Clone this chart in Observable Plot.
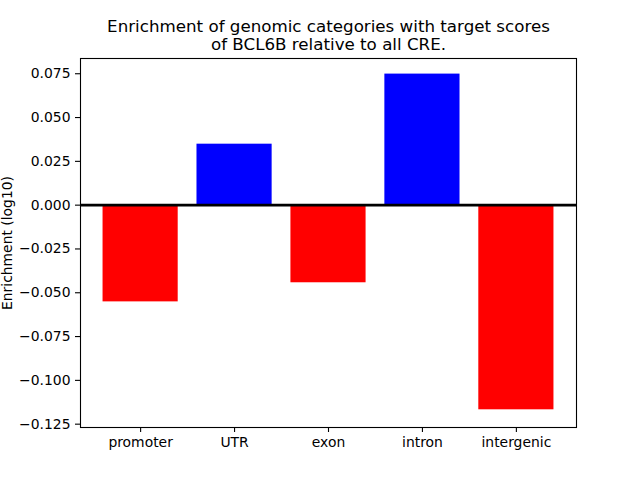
<!DOCTYPE html>
<html>
<head>
<meta charset="utf-8">
<script src="https://cdn.jsdelivr.net/npm/d3@7"></script>
<script src="https://cdn.jsdelivr.net/npm/@observablehq/plot@0.6"></script>
<style>
  html, body { margin: 0; padding: 0; background: #fff; }
  svg { display: block; }
</style>
</head>
<body>
<div id="chart"></div>
<script>
const categories = ["promoter", "UTR", "exon", "intron", "intergenic"];
const values = [-0.0552, 0.0348, -0.0443, 0.0748, -0.1168];
const yTicks = [-0.125, -0.1, -0.075, -0.05, -0.025, 0, 0.025, 0.05, 0.075];
const titleLines = ["Enrichment of genomic categories with target scores", "of BCL6B relative to all CRE."];
const yLabel = "Enrichment (log10)";

const data = categories.map((c, i) => ({category: c, value: values[i]}));
const font = "DejaVu Sans, sans-serif";

const chart = Plot.plot({
  width: 640,
  height: 480,
  marginTop: 58,
  marginBottom: 53,
  marginLeft: 80,
  marginRight: 64,
  style: {fontFamily: font, fontSize: "13.9px", color: "#000", background: "#fff"},
  x: {domain: categories, paddingInner: 0.2, paddingOuter: 0.24, round: false},
  y: {domain: [-0.1269, 0.0837]},
  marks: [
    Plot.barY(data, {
      x: "category",
      y: "value",
      fill: d => d.value >= 0 ? "#0000ff" : "#ff0000"
    }),
    Plot.ruleY([0], {stroke: "#000", strokeWidth: 2.7}),
    Plot.frame({stroke: "#000", strokeWidth: 1.1}),
    Plot.axisY({
      ticks: yTicks,
      tickFormat: d3.format(".3f"),
      tickSize: 5,
      tickPadding: 5,
      fontSize: 13.9,
      label: null,
      strokeWidth: 1.1
    }),
    Plot.axisX({
      tickSize: 5,
      tickPadding: 5,
      fontSize: 13.9,
      label: null,
      strokeWidth: 1.1
    }),
    Plot.text([yLabel], {
      frameAnchor: "left",
      textAnchor: "middle",
      lineAnchor: "middle",
      dx: -73,
      rotate: -90,
      fontSize: 13.9,
      fill: "#000"
    }),
    Plot.text([titleLines[0]], {
      frameAnchor: "top",
      lineAnchor: "bottom",
      dy: -26.5,
      fontSize: 16.7,
      fill: "#000"
    }),
    Plot.text([titleLines[1]], {
      frameAnchor: "top",
      lineAnchor: "bottom",
      dy: -9,
      fontSize: 16.7,
      fill: "#000"
    })
  ]
});
document.getElementById("chart").appendChild(chart);
</script>
</body>
</html>
